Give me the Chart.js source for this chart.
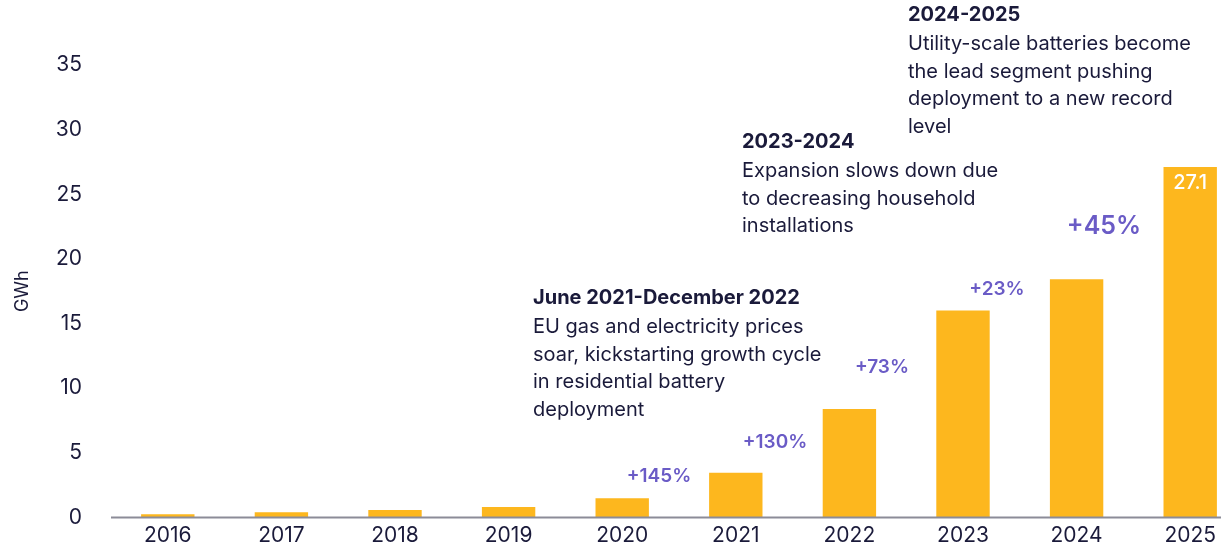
<!DOCTYPE html>
<html>
<head>
<meta charset="utf-8">
<script src="https://cdn.jsdelivr.net/npm/chart.js@4"></script>
<style>
  html, body { margin: 0; padding: 0; background: #ffffff; overflow: hidden; }
  #wrap { width: 1250px; height: 559px; position: relative; }
</style>
</head>
<body>
<div id="wrap"><canvas id="barChart"></canvas></div>
<script>
// chart data
const years = ['2016', '2017', '2018', '2019', '2020', '2021', '2022', '2023', '2024', '2025'];
const gwh = [0.25, 0.4, 0.58, 0.81, 1.49, 3.45, 8.39, 16.0, 18.43, 27.1];
const yMax = 35;
const yStep = 5;
const growthLabels = ['+145%', '+130%', '+73%', '+23%', '+45%'];
const lastValueLabel = '27.1';

// annotation texts (title + lines)
const notes = [
    { title: 'June 2021-December 2022', lines: ['EU gas and electricity prices', 'soar, kickstarting growth cycle', 'in residential battery', 'deployment'] },
    { title: '2023-2024', lines: ['Expansion slows down due', 'to decreasing household', 'installations'] },
    { title: '2024-2025', lines: ['Utility-scale batteries become', 'the lead segment pushing', 'deployment to a new record', 'level'] }
];

const barColor = '#FDB71E';
const textColor = '#1A1A3A';
const purple = '#6A5BC6';
const fontFamily = 'Inter, "Noto Sans", sans-serif';

// where the texts sit (pixels)
const notePos = [{ x: 533, y: 298 }, { x: 742, y: 142 }, { x: 908, y: 15 }];
const growthPos = [
    { x: 659, y: 476, size: 19 },
    { x: 775, y: 442, size: 19 },
    { x: 882, y: 367, size: 19 },
    { x: 997, y: 289, size: 19 },
    { x: 1104, y: 226, size: 25 }
];

const annotations = {
    id: 'annotations',
    afterDraw(chart) {
        const ctx = chart.ctx;
        const yScale = chart.scales.y;
        const zeroY = yScale.getPixelForValue(0);

        // baseline running out to the edge
        ctx.save();
        ctx.strokeStyle = '#8C8C98';
        ctx.lineWidth = 2;
        ctx.beginPath();
        ctx.moveTo(chart.chartArea.left, zeroY);
        ctx.lineTo(chart.width, zeroY);
        ctx.stroke();

        // value inside the last bar
        const meta = chart.getDatasetMeta(0);
        const lastBar = meta.data[meta.data.length - 1];
        ctx.fillStyle = '#ffffff';
        ctx.font = '500 20px ' + fontFamily;
        ctx.textAlign = 'center';
        ctx.textBaseline = 'middle';
        ctx.fillText(lastValueLabel, lastBar.x, lastBar.y + 16);

        // growth percentages
        ctx.fillStyle = purple;
        growthLabels.forEach((txt, i) => {
            const p = growthPos[i];
            ctx.font = '600 ' + p.size + 'px ' + fontFamily;
            ctx.fillText(txt, p.x, p.y);
        });

        // notes
        ctx.textAlign = 'left';
        ctx.fillStyle = textColor;
        notes.forEach((note, i) => {
            const p = notePos[i];
            ctx.font = '700 20px ' + fontFamily;
            ctx.fillText(note.title, p.x, p.y);
            ctx.font = '400 20px ' + fontFamily;
            note.lines.forEach((line, j) => {
                ctx.fillText(line, p.x, p.y + 29 + j * 27.5);
            });
        });
        ctx.restore();
    }
};

let ctx = document.getElementById('barChart').getContext('2d');
let chart = new Chart(ctx, {
    type: 'bar',
    data: {
        labels: years,
        datasets: [{
            data: gwh,
            backgroundColor: barColor,
            barPercentage: 0.47,
            categoryPercentage: 1.0
        }]
    },
    options: {
        responsive: true,
        maintainAspectRatio: false,
        animation: false,
        layout: { padding: { top: 65, right: 3, left: 0, bottom: 0 } },
        plugins: {
            legend: { display: false },
            tooltip: { enabled: false }
        },
        scales: {
            x: {
                grid: { display: false, drawTicks: false },
                border: { display: false },
                ticks: {
                    color: textColor,
                    font: { family: fontFamily, size: 21 },
                    padding: 6,
                    maxRotation: 0
                },
                afterFit(scale) { scale.height = 30; }
            },
            y: {
                min: 0,
                max: yMax,
                grid: { display: false, drawTicks: false },
                border: { display: false },
                ticks: {
                    stepSize: yStep,
                    color: textColor,
                    font: { family: fontFamily, size: 21 },
                    padding: 29
                },
                title: {
                    display: true,
                    text: 'GWh',
                    color: textColor,
                    font: { family: fontFamily, size: 18 },
                    padding: { top: 12, bottom: 0 }
                },
                afterFit(scale) { scale.width = 111; }
            }
        }
    },
    plugins: [annotations]
});
</script>
</body>
</html>
